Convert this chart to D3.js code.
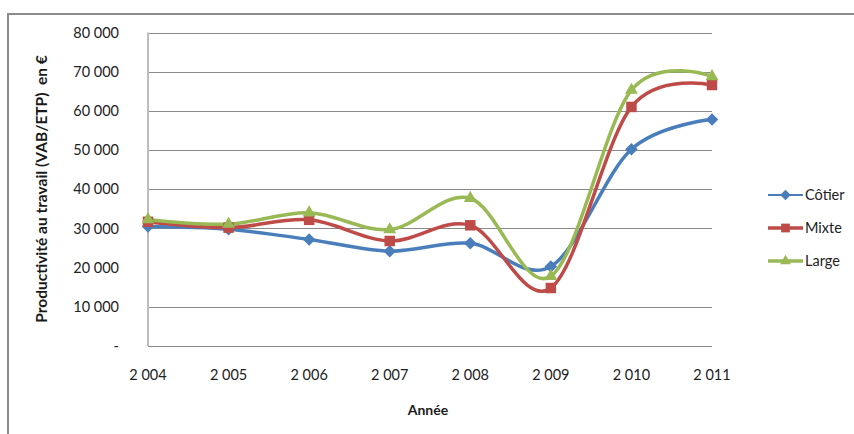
<!DOCTYPE html>
<html>
<head>
<meta charset="utf-8">
<script src="https://cdn.jsdelivr.net/npm/d3@7"></script>
<style>
  body { margin: 0; background: #fff; }
  svg { display: block; font-family: Lato, "Open Sans", sans-serif; }
</style>
</head>
<body>
<div id="chart"></div>
<script>
"use strict";

// Data
const years = ["2004", "2005", "2006", "2007", "2008", "2009", "2010", "2011"];
const cotier = [30500, 29800, 27200, 24200, 26200, 20300, 50200, 57800];
const mixte = [31700, 30200, 32200, 26800, 30800, 14800, 61000, 66600];
const large = [32300, 31100, 34000, 29700, 37700, 17800, 65300, 68800];
const seriesNames = ["Côtier", "Mixte", "Large"];
const yTicks = [0, 10000, 30000, 40000, 50000, 60000, 70000, 80000];
const yLabelTicks = [0, 10000, 20000, 30000, 40000, 50000, 60000, 70000, 80000];

const width = 854, height = 434;
const plot = { left: 148, right: 712, top: 32.5, bottom: 346 };

let svg = d3.select("#chart").append("svg")
    .attr("width", width)
    .attr("height", height);

// Outer frame (right and bottom edges fall off the picture)
svg.append("rect")
    .attr("x", 8).attr("y", 14)
    .attr("width", 870).attr("height", 440)
    .attr("fill", "none")
    .attr("stroke", "#8c8c8c")
    .attr("stroke-width", 2);

let x = d3.scalePoint()
    .domain(years)
    .range([plot.left, plot.right]);

let y = d3.scaleLinear()
    .domain([0, 80000])
    .range([plot.bottom, plot.top]);

let fmt = v => v === 0 ? "-" : d3.format(",")(v).replace(/,/g, " ");

// Gridlines
svg.append("g").selectAll("line")
    .data(yTicks.filter(d => d > 0))
    .enter().append("line")
    .attr("x1", plot.left).attr("x2", plot.right)
    .attr("y1", d => Math.round(y(d)) + 0.5)
    .attr("y2", d => Math.round(y(d)) + 0.5)
    .attr("stroke", "#8a8a8a")
    .attr("stroke-width", 1);

// Axis lines
svg.append("line")
    .attr("x1", plot.left).attr("x2", plot.left)
    .attr("y1", plot.top).attr("y2", plot.bottom)
    .attr("stroke", "#bdbdbd").attr("stroke-width", 2);
svg.append("line")
    .attr("x1", plot.left).attr("x2", plot.right)
    .attr("y1", plot.bottom + 0.5).attr("y2", plot.bottom + 0.5)
    .attr("stroke", "#8a8a8a").attr("stroke-width", 1);

// Y tick labels
svg.append("g").selectAll("text")
    .data(yLabelTicks)
    .enter().append("text")
    .attr("x", 119)
    .attr("y", d => y(d))
    .attr("dy", "0.35em")
    .attr("text-anchor", "end")
    .style("font-size", "14.5px")
    .style("fill", "#222")
    .text(fmt);

// X tick labels
svg.append("g").selectAll("text")
    .data(years)
    .enter().append("text")
    .attr("x", d => x(d))
    .attr("y", 375)
    .attr("dy", "0.35em")
    .attr("text-anchor", "middle")
    .style("font-size", "14.5px")
    .style("fill", "#222")
    .text(d => fmt(+d));

// Axis titles
svg.append("text")
    .attr("transform", "translate(42,189) rotate(-90)")
    .attr("dy", "0.35em")
    .attr("text-anchor", "middle")
    .style("font-size", "15.5px")
    .style("font-weight", "bold")
    .style("fill", "#1a1a1a")
    .style("white-space", "pre")
    .text("Productivité au travail (VAB/ETP)  en €");

svg.append("text")
    .attr("x", 428).attr("y", 410)
    .attr("dy", "0.35em")
    .attr("text-anchor", "middle")
    .style("font-size", "14px")
    .style("font-weight", "bold")
    .style("fill", "#1a1a1a")
    .text("Année");

// Series
let series = [
    { name: seriesNames[0], values: cotier, color: "#4a7ebb", symbol: d3.symbolDiamond2, size: 100 },
    { name: seriesNames[1], values: mixte, color: "#be4b48", symbol: d3.symbolSquare2, size: 140 },
    { name: seriesNames[2], values: large, color: "#98b954", symbol: d3.symbolTriangle2, size: 120 }
];

let line = d3.line()
    .x((d, i) => x(years[i]))
    .y(d => y(d))
    .curve(d3.curveCatmullRom.alpha(0));

let lines = svg.append("g").attr("class", "lines");
let marks = svg.append("g").attr("class", "marks");

series.forEach(s => {
    lines.append("path")
        .datum(s.values)
        .attr("d", line)
        .attr("fill", "none")
        .attr("stroke", s.color)
        .attr("stroke-width", 3.5)
        .attr("stroke-linejoin", "round")
        .attr("stroke-linecap", "round");

    marks.append("g").selectAll("path")
        .data(s.values)
        .enter().append("path")
        .attr("transform", (d, i) => "translate(" + x(years[i]) + "," + y(d) + ")")
        .attr("d", d3.symbol().type(s.symbol).size(s.size))
        .attr("fill", s.color);
});

// Legend
let legend = svg.append("g").selectAll("g")
    .data(series)
    .enter().append("g")
    .attr("transform", (d, i) => "translate(768," + (195 + i * 33) + ")");

legend.append("line")
    .attr("x1", 0).attr("x2", 35)
    .attr("stroke", d => d.color)
    .attr("stroke-width", (d, i) => i === 0 ? 2 : 3.5);

legend.append("path")
    .attr("transform", "translate(17.5,0)")
    .attr("d", d => d3.symbol().type(d.symbol).size(d.size * 0.7)())
    .attr("fill", d => d.color);

legend.append("text")
    .attr("x", 37)
    .attr("dy", "0.35em")
    .style("font-size", "14.5px")
    .style("fill", "#222")
    .text(d => d.name);
</script>
</body>
</html>
